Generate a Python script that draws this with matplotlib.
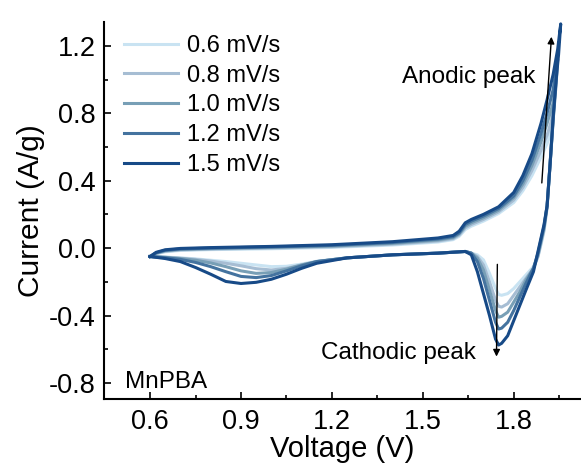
import numpy as np
import matplotlib.pyplot as plt

plt.rcParams['font.family'] = ['Liberation Sans', 'DejaVu Sans']

rates = ["0.6 mV/s", "0.8 mV/s", "1.0 mV/s", "1.2 mV/s", "1.5 mV/s"]
colors = ['#c9e3f2', '#a6bdd3', '#789fb6', '#44739f', '#174a87']

# forward (anodic) scan, shared voltage grid
fwd_v = [0.60, 0.62, 0.65, 0.70, 0.80, 1.00, 1.20, 1.40, 1.55, 1.60,
         1.62, 1.64, 1.66, 1.70, 1.75, 1.80, 1.83, 1.86, 1.89, 1.91]
fwd_06 = [-0.05, -0.034, -0.022, -0.014, -0.009, -0.004, 0.004, 0.018, 0.036, 0.05,
          0.07, 0.11, 0.13, 0.16, 0.205, 0.27, 0.34, 0.43, 0.54, 0.62]
fwd_08 = [-0.05, -0.032, -0.019, -0.011, -0.006, 0.0, 0.008, 0.023, 0.042, 0.056,
          0.078, 0.12, 0.14, 0.17, 0.215, 0.285, 0.36, 0.46, 0.58, 0.67]
fwd_10 = [-0.05, -0.03, -0.016, -0.008, -0.003, 0.004, 0.012, 0.028, 0.048, 0.062,
          0.085, 0.13, 0.15, 0.18, 0.225, 0.30, 0.38, 0.49, 0.63, 0.74]
fwd_12 = [-0.05, -0.028, -0.013, -0.005, 0.0, 0.007, 0.016, 0.033, 0.054, 0.068,
          0.09, 0.14, 0.16, 0.19, 0.235, 0.31, 0.40, 0.52, 0.68, 0.80]
fwd_15 = [-0.05, -0.025, -0.01, -0.002, 0.003, 0.01, 0.02, 0.038, 0.06, 0.075,
          0.10, 0.15, 0.17, 0.20, 0.245, 0.33, 0.43, 0.56, 0.74, 0.88]

# turning region near the upper vertex
top_v_06 = [1.92, 1.925, 1.924]
top_i_06 = [0.68, 0.72, 0.62]
top_v_08 = [1.925, 1.932, 1.928]
top_i_08 = [0.76, 0.85, 0.72]
top_v_10 = [1.93, 1.938, 1.93]
top_i_10 = [0.86, 0.98, 0.76]
top_v_12 = [1.93, 1.945, 1.94, 1.93]
top_i_12 = [0.94, 1.12, 0.98, 0.76]
top_v_15 = [1.93, 1.945, 1.955, 1.948, 1.94, 1.93]
top_i_15 = [1.03, 1.18, 1.33, 1.15, 1.0, 0.78]

# reverse (cathodic) scan, shared voltage grid
rev_v = [1.92, 1.91, 1.90, 1.89, 1.88, 1.865, 1.84, 1.82, 1.80, 1.78, 1.76,
         1.75, 1.74, 1.72, 1.70, 1.68, 1.66, 1.64, 1.55, 1.40, 1.25, 1.15,
         1.10, 1.05, 1.00, 0.95, 0.90, 0.85, 0.80, 0.75, 0.70, 0.65, 0.60]
rev_06 = [0.50, 0.24, 0.10, 0.02, -0.05, -0.11, -0.16, -0.20, -0.24, -0.27, -0.28,
          -0.275, -0.24, -0.15, -0.07, -0.04, -0.03, -0.02, -0.03, -0.04, -0.058, -0.078,
          -0.095, -0.108, -0.11, -0.10, -0.09, -0.08, -0.072, -0.064, -0.058, -0.053, -0.05]
rev_08 = [0.50, 0.24, 0.11, 0.03, -0.05, -0.12, -0.18, -0.23, -0.28, -0.33, -0.35,
          -0.345, -0.31, -0.20, -0.10, -0.05, -0.03, -0.02, -0.03, -0.04, -0.058, -0.08,
          -0.10, -0.12, -0.13, -0.122, -0.105, -0.09, -0.077, -0.067, -0.06, -0.054, -0.05]
rev_10 = [0.50, 0.25, 0.12, 0.04, -0.04, -0.12, -0.19, -0.26, -0.32, -0.38, -0.405,
          -0.41, -0.37, -0.25, -0.13, -0.06, -0.03, -0.02, -0.03, -0.04, -0.058, -0.08,
          -0.10, -0.125, -0.145, -0.15, -0.135, -0.11, -0.088, -0.072, -0.062, -0.055, -0.05]
rev_12 = [0.50, 0.25, 0.13, 0.05, -0.03, -0.12, -0.21, -0.29, -0.37, -0.44, -0.475,
          -0.48, -0.44, -0.31, -0.18, -0.08, -0.03, -0.02, -0.03, -0.04, -0.058, -0.08,
          -0.105, -0.135, -0.163, -0.175, -0.168, -0.14, -0.11, -0.085, -0.067, -0.057, -0.05]
rev_15 = [0.50, 0.25, 0.14, 0.06, -0.02, -0.14, -0.25, -0.34, -0.43, -0.52, -0.565,
          -0.575, -0.54, -0.40, -0.27, -0.14, -0.04, -0.02, -0.03, -0.04, -0.058, -0.09,
          -0.12, -0.155, -0.185, -0.203, -0.21, -0.198, -0.155, -0.115, -0.08, -0.062, -0.05]

fwd = [fwd_06, fwd_08, fwd_10, fwd_12, fwd_15]
tops = [(top_v_06, top_i_06), (top_v_08, top_i_08), (top_v_10, top_i_10),
        (top_v_12, top_i_12), (top_v_15, top_i_15)]
rev = [rev_06, rev_08, rev_10, rev_12, rev_15]

fig = plt.figure(figsize=(5.81, 4.65), dpi=100)
ax = fig.add_axes([0.179, 0.142, 0.82, 0.811])

for k in range(len(rates)):
    v = fwd_v + tops[k][0] + rev_v
    i = fwd[k] + tops[k][1] + rev[k]
    ax.plot(v, i, color=colors[k], lw=2.2, label=rates[k],
            solid_joinstyle='round')

ax.annotate('', xy=(1.925, 1.27), xytext=(1.892, 0.37),
            arrowprops=dict(arrowstyle='-|>', color='k', lw=1,
                            mutation_scale=10))
ax.annotate('', xy=(1.743, -0.66), xytext=(1.746, -0.08),
            arrowprops=dict(arrowstyle='-|>', color='k', lw=1,
                            mutation_scale=10))
ax.text(1.65, 1.015, "Anodic peak", ha='center', va='center', fontsize=17.5)
ax.text(1.42, -0.62, "Cathodic peak", ha='center', va='center', fontsize=17.5)
ax.text(0.517, -0.795, "MnPBA", ha='left', va='center', fontsize=17.5)

ax.set_xlim(0.448, 2.02)
ax.set_ylim(-0.895, 1.342)
ax.set_xticks([0.6, 0.9, 1.2, 1.5, 1.8])
ax.set_xticks([0.75, 1.05, 1.35, 1.65, 1.95], minor=True)
ax.set_yticks([-0.8, -0.4, 0.0, 0.4, 0.8, 1.2])
ax.set_yticks([-0.6, -0.2, 0.2, 0.6, 1.0], minor=True)
ax.set_xticklabels(['0.6', '0.9', '1.2', '1.5', '1.8'])
ax.set_yticklabels(['-0.8', '-0.4', '0.0', '0.4', '0.8', '1.2'])
ax.tick_params(which='both', direction='in', labelsize=19.5, width=1.2)
ax.tick_params(which='major', length=5)
ax.tick_params(which='minor', length=3)
ax.tick_params(axis='x', pad=7)
ax.tick_params(axis='y', pad=6)
ax.spines['top'].set_visible(False)
ax.spines['right'].set_visible(False)
ax.spines['left'].set_linewidth(1.5)
ax.spines['bottom'].set_linewidth(1.5)
ax.set_xlabel("Voltage (V)", fontsize=21, labelpad=0)
ax.set_ylabel("Current (A/g)", fontsize=21.5, labelpad=3)

ax.legend(loc='upper left', frameon=False, fontsize=17, handlelength=2.3,
          handletextpad=0.35, labelspacing=0.33, borderaxespad=0,
          borderpad=0.55, bbox_to_anchor=(0.015, 1.0))

fig.savefig("out.png", dpi=100)
